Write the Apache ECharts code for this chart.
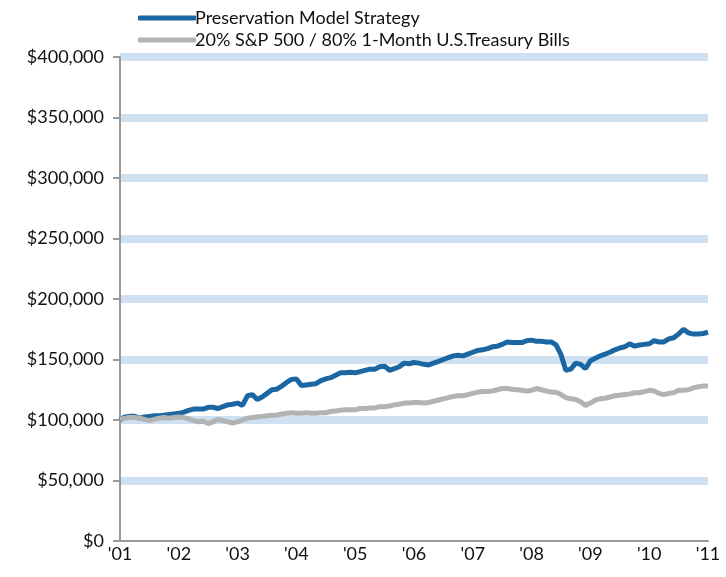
<!DOCTYPE html>
<html><head><meta charset="utf-8">
<script src="https://cdn.jsdelivr.net/npm/echarts@6/dist/echarts.min.js"></script>
<style>html,body{margin:0;padding:0;background:#fff}#c{width:726px;height:577px}</style>
</head><body><div id="c"></div>
<script>
const seriesNames = ["Preservation Model Strategy", "20% S&P 500 / 80% 1-Month U.S.Treasury Bills"];
const yearLabels = ["'01","'02","'03","'04","'05","'06","'07","'08","'09","'10","'11"];
// monthly values, Jan 2001 .. Jan 2011 (in $)
const preservation = [
100,102.5,103,103,101.5,102.5,103,103.5,103.5,104,104.5,105,
105.5,106.5,108,109,109,109,110.5,110.5,109.5,111,112.5,113,
114,112,120,121,117,119,122,125,125.5,128,131,133.5,
134,128.5,129,129.5,130,132.5,134,135,137,139,139,139.5,
139,140,141,142,142,144,144.5,141,142.5,144,147,146.5,
147.5,147,146,145.5,147,148.5,150,151.5,153,153.5,153,154.5,
156,157.5,158,159,160.5,161,162.5,164.5,164,164,164,165.5,
166,165,165,164.5,164.5,162,154,141,142,147,146,142.5,
149,151,153,154.5,156,158,159.5,160.5,163,161,162,162.5,
163,165.5,164.5,164.5,167,168,171,175,172,171,171,171.5,
172.5].map(v => v * 1000);
const benchmark = [
100.5,101.5,102,102,101.5,100.5,99.5,100.5,101.5,102,101.5,102,
102.5,102,101,99.5,98.5,99,97,98.5,100.5,99.5,98.5,97.5,
98.5,100,101.5,102,102.5,103,103.5,104,104,105,105.5,106,
105.5,105.5,106,105.5,105.5,106,106,107,107.5,108,108.5,108.5,
108.5,109.5,109.5,110,110,111,111,111.5,112.5,113,114,114,
114.5,114.5,114,114.5,115.5,116.5,117.5,118.5,119.5,120,120,121,
122,123,123.5,123.5,124,125,126,126,125.5,125,124.5,124,
124.5,126,125,124,123,123,121,118.5,117.5,117,115,112,
114,116.5,117.5,118,119,120,120.5,121,121.5,122.5,122.5,123.5,
124.5,124,122,121,122,122.5,124.5,124.5,125,126.5,127.5,128,
128].map(v => v * 1000);

const months = [];
for (let i = 0; i < preservation.length; i++) {
  months.push(i % 12 === 0 ? yearLabels[i / 12] : "m" + i);
}

const FONT = "Lato";
const chart = echarts.init(document.getElementById('c'), null, {renderer: 'canvas'});
chart.setOption({
  animation: false,
  textStyle: {fontFamily: FONT},
  legend: {
    orient: 'vertical', left: 133, top: 4, itemGap: 4,
    itemWidth: 58, itemHeight: 5, icon: 'roundRect',
    textStyle: {fontFamily: FONT, fontSize: 18, color: '#111', padding: [0,0,0,-6]},
    data: seriesNames
  },
  grid: {left: 120, right: 18, top: 57, bottom: 36, containLabel: false},
  xAxis: {
    type: 'category', data: months, boundaryGap: false,
    axisLine: {lineStyle: {color: '#9a9a9a', width: 2}},
    axisTick: {show: false},
    axisLabel: {interval: 11, color: '#111', fontSize: 18, fontFamily: FONT, margin: 4,
      formatter: v => v.charAt(0) === 'm' ? '' : v},
    splitLine: {show: false}
  },
  yAxis: {
    type: 'value', min: 0, max: 400000, interval: 50000,
    axisLine: {show: true, lineStyle: {color: '#9a9a9a', width: 2}},
    axisTick: {show: true, length: 7, lineStyle: {color: '#9a9a9a', width: 2}},
    axisLabel: {color: '#111', fontSize: 18, fontFamily: FONT, margin: 16,
      formatter: v => '$' + v.toLocaleString('en-US')},
    splitLine: {show: true, showMinLine: false, lineStyle: {color: '#cfe0f1', width: 8}}
  },
  series: [
    {name: seriesNames[0], type: 'line', data: preservation, showSymbol: false, symbol: 'none',
     color: '#1b67a4', lineStyle: {width: 5, color: '#1b67a4'}, z: 2},
    {name: seriesNames[1], type: 'line', data: benchmark, showSymbol: false, symbol: 'none',
     color: '#b3b3b3', lineStyle: {width: 5, color: '#b3b3b3'}, z: 3}
  ]
});
</script></body></html>
